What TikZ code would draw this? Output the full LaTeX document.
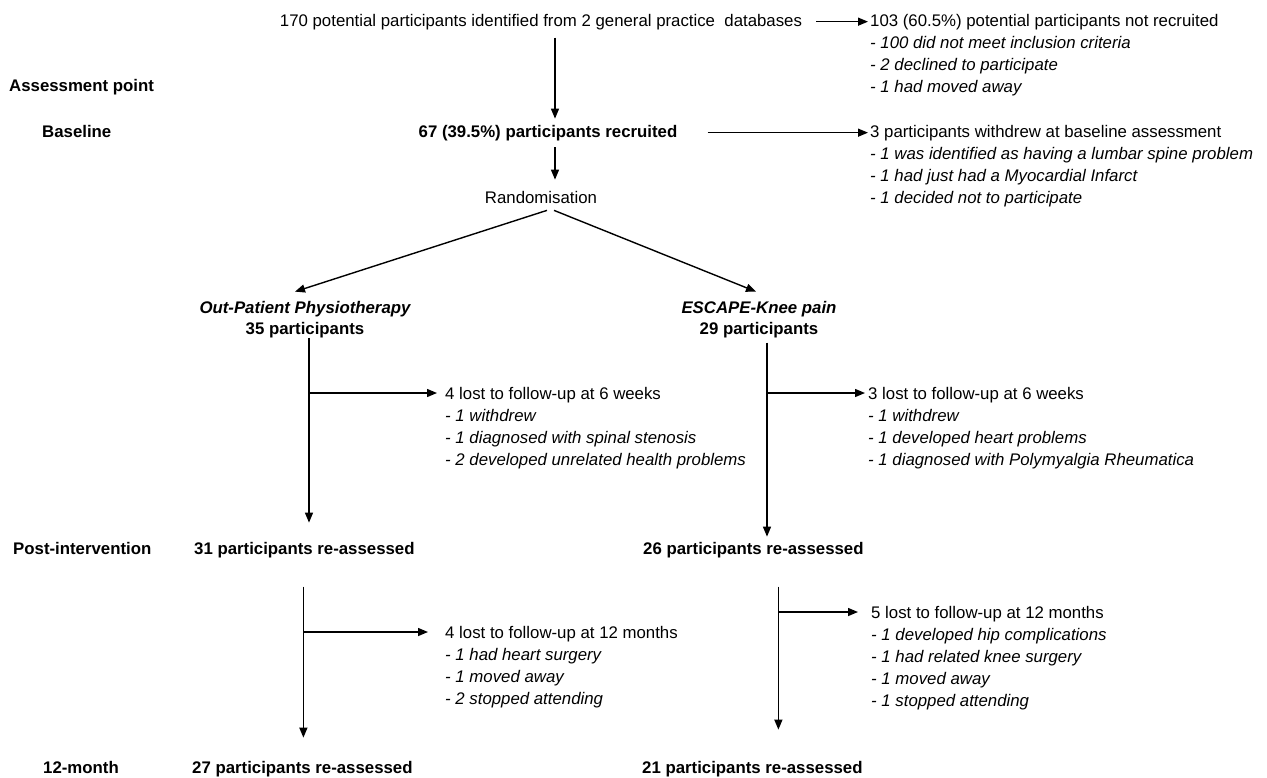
\documentclass[tikz,border=0pt]{standalone}
\usepackage{fontspec}
\setmainfont{Liberation Sans}
\usetikzlibrary{arrows.meta}
\newcommand\fsz{\fontsize{16.8}{22}\selectfont}
\begin{document}
\begin{tikzpicture}[x=1pt,y=-1pt,
  every node/.style={inner sep=0pt,font=\fsz},
  lbl/.style={font=\fsz\bfseries},
  lblit/.style={font=\fsz\bfseries\itshape},
  box/.style={align=left,anchor=north west},
  arr/.style={line width=1.4pt,-{Triangle[length=10pt,width=8pt]}}]
\fill[white] (0,0) rectangle (1267,777);
\useasboundingbox (0,0) rectangle (1267,777);

% texts
\node[anchor=base] (top) at (541,26) {170 potential participants identified from 2 general practice\ \ databases};
\node[box] (nr) at (870,14) {103 (60.5\%) potential participants not recruited\\
  \textit{- 100 did not meet inclusion criteria}\\
  \textit{- 2 declined to participate}\\
  \textit{- 1 had moved away}};
\node[lbl,anchor=base west] (ap) at (9,91) {Assessment point};
\node[lbl,anchor=base west] (bl) at (42,137) {Baseline};
\node[lbl,anchor=base] (rec) at (548,137) {67 (39.5\%) participants recruited};
\node[box] (nw) at (870,125) {3 participants withdrew at baseline assessment\\
  \textit{- 1 was identified as having a lumbar spine problem}\\
  \textit{- 1 had just had a Myocardial Infarct}\\
  \textit{- 1 decided not to participate}};
\node[anchor=base] (rand) at (541,203) {Randomisation};
\node[lblit,anchor=base] (op) at (305,313) {Out-Patient Physiotherapy};
\node[lbl,anchor=base] (op2) at (305,334) {35 participants};
\node[lblit,anchor=base] (es) at (759,313) {ESCAPE-Knee pain};
\node[lbl,anchor=base] (es2) at (759,334) {29 participants};
\node[box] (l6) at (445,387) {4 lost to follow-up at 6 weeks\\
  \textit{- 1 withdrew}\\
  \textit{- 1 diagnosed with spinal stenosis}\\
  \textit{- 2 developed unrelated health problems}};
\node[box] (r6) at (868,387) {3 lost to follow-up at 6 weeks\\
  \textit{- 1 withdrew}\\
  \textit{- 1 developed heart problems}\\
  \textit{- 1 diagnosed with Polymyalgia Rheumatica}};
\node[lbl,anchor=base west] (pint) at (13,554) {Post-intervention};
\node[lbl,anchor=base west] (pi) at (194,554) {31 participants re-assessed};
\node[lbl,anchor=base west] (pr) at (643,554) {26 participants re-assessed};
\node[box] (l12) at (445,626) {4 lost to follow-up at 12 months\\
  \textit{- 1 had heart surgery}\\
  \textit{- 1 moved away}\\
  \textit{- 2 stopped attending}};
\node[box] (r12) at (871,606) {5 lost to follow-up at 12 months\\
  \textit{- 1 developed hip complications}\\
  \textit{- 1 had related knee surgery}\\
  \textit{- 1 moved away}\\
  \textit{- 1 stopped attending}};
\node[lbl,anchor=base west] (m12) at (43,773) {12-month};
\node[lbl,anchor=base west] (p12) at (192,773) {27 participants re-assessed};
\node[lbl,anchor=base west] (pr12) at (642,773) {21 participants re-assessed};

% connectors
\coordinate (vT) at ([xshift=7pt]rec.north);
\draw[arr] ([xshift=14pt]top.east) -- ([xshift=-2pt]top.east -| nr.west);
\draw[arr] ([yshift=-8pt]top.south -| vT) -- ([yshift=6pt]vT);
\draw[arr] ([xshift=30pt]rec.east) -- ([xshift=-2pt]rec.east -| nw.west);
\coordinate (rt) at (vT |- rand.north);
\draw[arr] ([yshift=-6.5pt]rec.south -| vT) -- ([yshift=11pt]rt);
\draw[arr] ([xshift=6pt,yshift=-7pt]rand.south) -- ([xshift=-10pt,yshift=9pt]op.north);
\draw[arr] ([xshift=13pt,yshift=-7pt]rand.south) -- ([xshift=-3pt,yshift=9pt]es.north);

\coordinate (vL) at ([xshift=4pt]op2.south);
\coordinate (vLe) at (vL |- pi.north);
\draw[arr] (vL) -- ([yshift=19pt]vLe);
\coordinate (l6a) at ([yshift=-6pt]l6.north west);
\draw[arr] (vL |- l6a) -- ([xshift=-8pt]l6a);

\coordinate (vR) at ([xshift=8pt,yshift=-5pt]es2.south);
\coordinate (vRe) at (vR |- pr.north);
\draw[arr] (vR) -- ([yshift=5pt]vRe);
\coordinate (r6a) at ([yshift=-6pt]r6.north west);
\draw[arr] (vR |- r6a) -- ([xshift=-3pt]r6a);

\coordinate (wL) at ([xshift=-1pt,yshift=-29pt]pi.south);
\coordinate (wLe) at (wL |- p12.north);
\draw[arr] (wL) -- ([yshift=23pt]wLe);
\coordinate (l12a) at ([yshift=-6pt]l12.north west);
\draw[arr] (wL |- l12a) -- ([xshift=-17pt]l12a);

\coordinate (wR) at ([xshift=25pt,yshift=-29pt]pr.south);
\coordinate (wRe) at (wR |- pr12.north);
\draw[arr] (wR) -- ([yshift=31pt]wRe);
\coordinate (r12a) at ([yshift=-6pt]r12.north west);
\draw[arr] (wR |- r12a) -- ([xshift=-13pt]r12a);
\end{tikzpicture}
\end{document}
